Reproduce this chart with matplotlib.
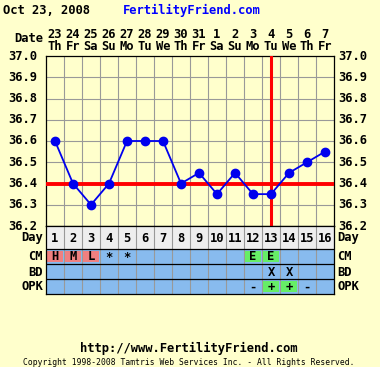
import matplotlib
matplotlib.use("Agg")
import matplotlib.pyplot as plt
from matplotlib.patches import Rectangle

# ---- data ----
days = list(range(1, 17))
dates = ["23", "24", "25", "26", "27", "28", "29", "30", "31", "1", "2", "3", "4", "5", "6", "7"]
weekdays = ["Th", "Fr", "Sa", "Su", "Mo", "Tu", "We", "Th", "Fr", "Sa", "Su", "Mo", "Tu", "We", "Th", "Fr"]
temps = [36.6, 36.4, 36.3, 36.4, 36.6, 36.6, 36.6, 36.4, 36.45, 36.35, 36.45, 36.35, 36.35, 36.45, 36.5, 36.55]
yticks = [36.2, 36.3, 36.4, 36.5, 36.6, 36.7, 36.8, 36.9, 37.0]
coverline = 36.4
ovulation_day = 13
cm = ["H", "M", "L", "*", "*", "", "", "", "", "", "", "E", "E", "", "", ""]
cm_color = ["pink", "pink", "pink", "", "", "", "", "", "", "", "", "green", "green", "", "", ""]
bd = ["", "", "", "", "", "", "", "", "", "", "", "", "X", "X", "", ""]
opk = ["", "", "", "", "", "", "", "", "", "", "", "-", "+", "+", "-", ""]
opk_color = ["", "", "", "", "", "", "", "", "", "", "", "", "green", "green", "", ""]

W, H = 380, 367
BG = "#ffffcc"
MONO = "DejaVu Sans Mono"
fig = plt.figure(figsize=(W / 100, H / 100), dpi=100, facecolor=BG)

def fx(px):
    return px / W

def fy(py):
    return 1 - py / H

L, R = 46, 334
TOP, MID, BOT = 56, 226, 294

ax = fig.add_axes([fx(L), fy(MID), fx(R - L), (MID - TOP) / H])
ax.set_facecolor(BG)
ax.set_xlim(0.5, 16.5)
ax.set_ylim(36.2, 37.0)
for x in [d + 0.5 for d in days[:-1]]:
    ax.axvline(x, color="#999999", lw=0.8, zorder=1)
for y in yticks[1:-1]:
    ax.axhline(y, color="#999999", lw=0.8, zorder=1)
ax.set_xticks([])
ax.set_yticks([])
for s in ax.spines.values():
    s.set_color("black")
    s.set_linewidth(0.9)

ax.axhline(coverline, color="#ff0000", lw=2.8, zorder=3)
ax.axvline(ovulation_day, color="#ff0000", lw=2.2, zorder=3)
ax.plot(days, temps, color="#0000ee", lw=1.3, marker="o", ms=6,
        markerfacecolor="#0000ee", markeredgecolor="#0000ee", zorder=4, clip_on=False)

ytr = ax.get_yaxis_transform()
for y in yticks:
    ax.text(-9 / (R - L), y, f"{y:.1f}", transform=ytr, ha="right", va="center",
            fontsize=8.7, fontweight="bold", family=MONO, clip_on=False)
    ax.text(1 + 4 / (R - L), y, f"{y:.1f}", transform=ytr, ha="left", va="center",
            fontsize=8.7, fontweight="bold", family=MONO, clip_on=False)

xtr = ax.get_xaxis_transform()
hgt = MID - TOP
for d, dt, wd in zip(days, dates, weekdays):
    ax.text(d, (MID - 34) / hgt, dt, transform=xtr, ha="center", va="center",
            fontsize=8.7, fontweight="bold", family=MONO, clip_on=False)
    ax.text(d, (MID - 46.5) / hgt, wd, transform=xtr, ha="center", va="center",
            fontsize=8.7, fontweight="bold", family=MONO, clip_on=False)

# ---- table ----
tax = fig.add_axes([fx(L), fy(BOT), fx(R - L), (BOT - MID) / H])
tax.set_xlim(0.5, 16.5)
tax.set_ylim(68, 0)
tax.set_xticks([])
tax.set_yticks([])
for s in tax.spines.values():
    s.set_color("black")
    s.set_linewidth(0.9)
rows = [(0, 23), (23, 38), (38, 53), (53, 68)]
tax.add_patch(Rectangle((0.5, 0), 16, 23, facecolor="#eeeeee", edgecolor="none", zorder=0))
tax.add_patch(Rectangle((0.5, 23), 16, 45, facecolor="#88bbee", edgecolor="none", zorder=0))
for x in [d + 0.5 for d in days[:-1]]:
    tax.axvline(x, color="#999999", lw=0.8, zorder=1)
for y in [23, 38, 53]:
    tax.axhline(y, color="black", lw=0.9, zorder=2)

colmap = {"pink": "#f08080", "green": "#66ee66"}
def cell(d, r, txt, col):
    y0, y1 = rows[r]
    if col:
        tax.add_patch(Rectangle((d - 0.44, y0 + 2), 0.88, (y1 - y0) - 4,
                                facecolor=colmap[col], edgecolor="none", zorder=1.5))
    if txt:
        tax.text(d, (y0 + y1) / 2 + 0.5, txt, ha="center", va="center", fontsize=8.7,
                 fontweight="bold", family=MONO, zorder=3)

for i, d in enumerate(days):
    tax.text(d, 12, str(d), ha="center", va="center", fontsize=8.7,
             fontweight="bold", family=MONO, zorder=3)
    cell(d, 1, cm[i], cm_color[i])
    cell(d, 2, bd[i], "")
    cell(d, 3, opk[i], opk_color[i])

row_labels = ["Day", "CM", "BD", "OPK"]
for (y0, y1), lab in zip(rows, row_labels):
    yc = (y0 + y1) / 2 + (0.5 if lab != "Day" else 0)
    tax.text(0.5 - 3 / 18, yc, lab, ha="right", va="center", fontsize=8.7,
             fontweight="bold", family=MONO, clip_on=False)
    tax.text(16.5 + 3 / 18, yc, lab, ha="left", va="center", fontsize=8.7,
             fontweight="bold", family=MONO, clip_on=False)

# "Date" header label
fig.text(fx(43), fy(39), "Date", ha="right", va="center", fontsize=8.7,
         fontweight="bold", family=MONO)

# title
fig.text(fx(3), fy(10), "Oct 23, 2008", ha="left", va="center", fontsize=8.7,
         fontweight="bold", family=MONO)
fig.text(fx(123), fy(10), "FertilityFriend.com", ha="left", va="center", fontsize=8.7,
         fontweight="bold", family=MONO, color="#0000ff")

# footer
fig.text(fx(189), fy(348), "http://www.FertilityFriend.com", ha="center", va="center",
         fontsize=8.7, fontweight="bold", family=MONO)
fig.text(fx(189), fy(362.5), "Copyright 1998-2008 Tamtris Web Services Inc. - All Rights Reserved.",
         ha="center", va="center", fontsize=5.8, family=MONO)

fig.savefig("out.png", dpi=100, facecolor=BG)
